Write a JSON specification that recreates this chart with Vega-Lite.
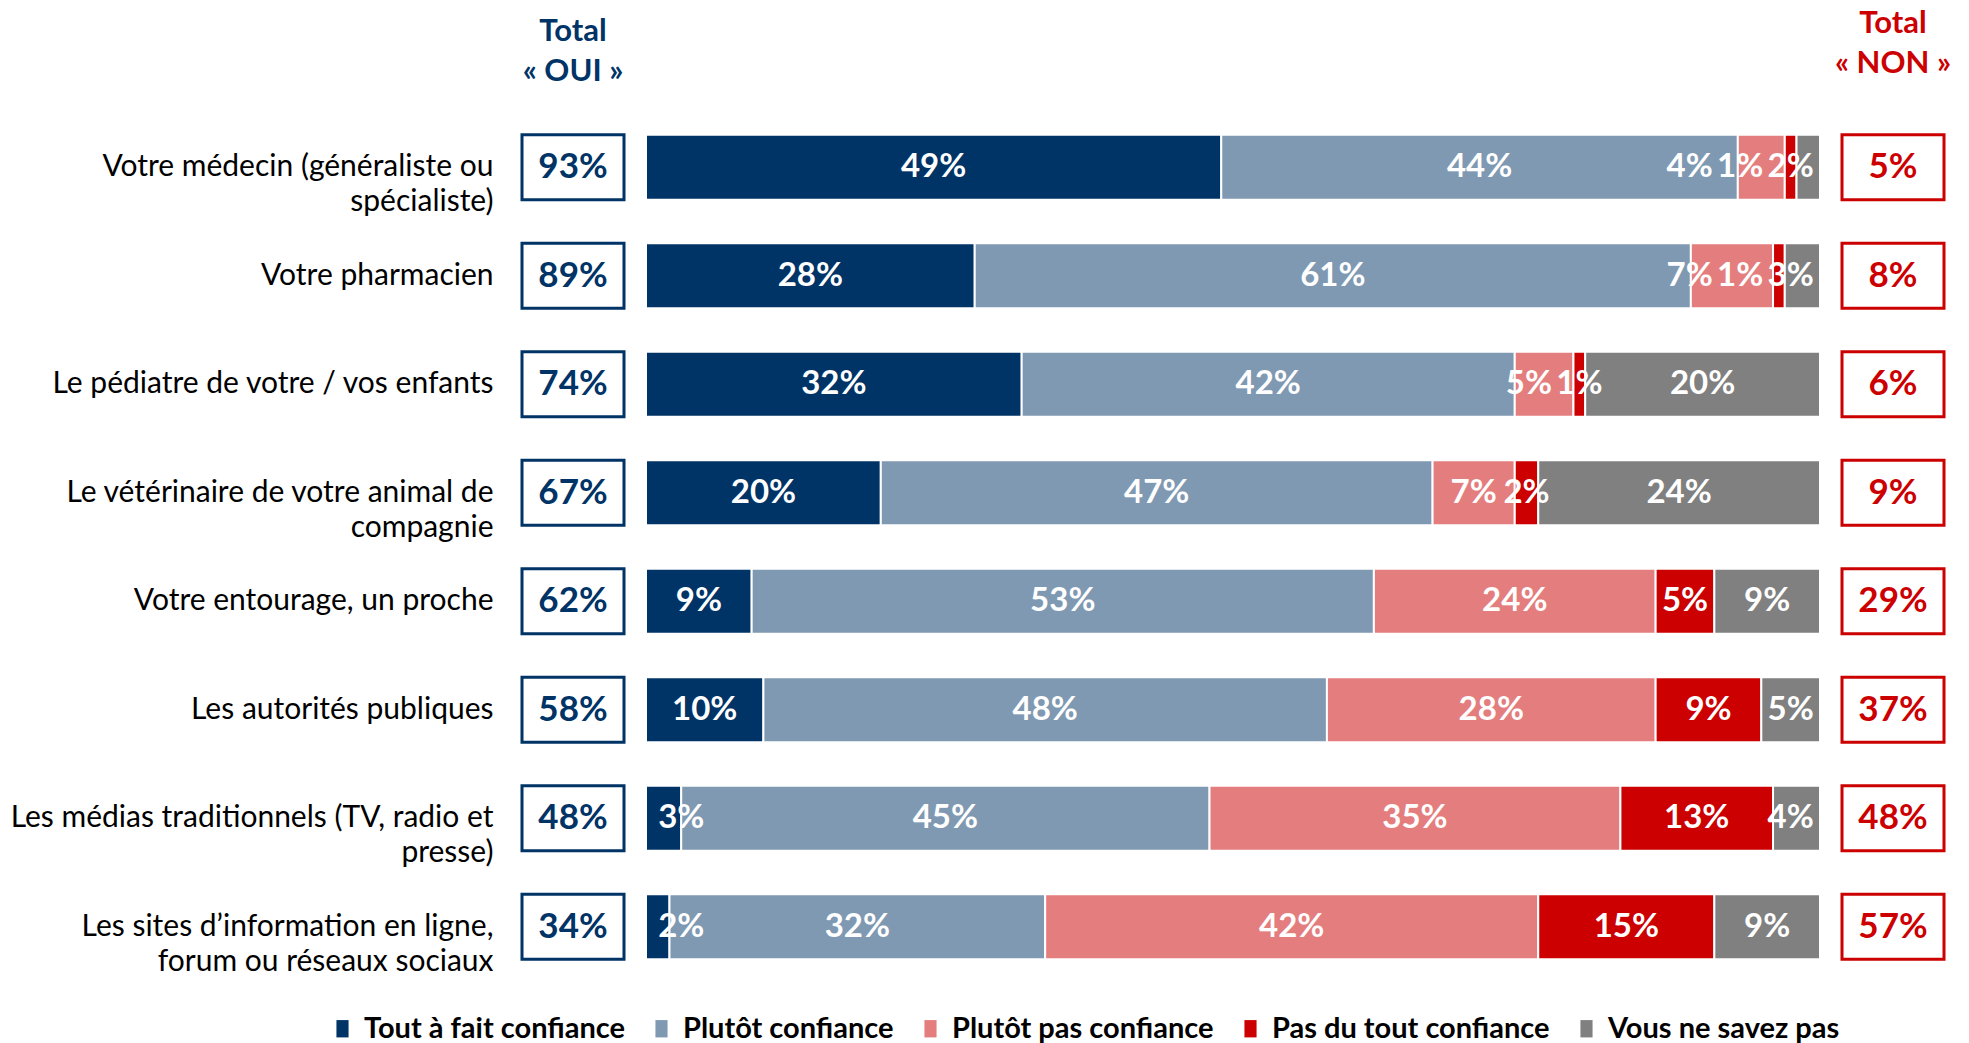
{
  "$schema": "https://vega.github.io/schema/vega-lite/v6.json",
  "background": "white",
  "padding": {"left": 10, "right": 5, "top": 8, "bottom": 5},
  "bounds": "flush",
  "spacing": 22,
  "config": {"view": {"stroke": null}, "font": "Lato"},
  "datasets": {
    "bars": [
      {"item": "Votre médecin (généraliste ou|spécialiste)", "cat": "Tout à fait confiance", "order": 1, "pct": 0.49},
      {"item": "Votre médecin (généraliste ou|spécialiste)", "cat": "Plutôt confiance", "order": 2, "pct": 0.44},
      {"item": "Votre médecin (généraliste ou|spécialiste)", "cat": "Plutôt pas confiance", "order": 3, "pct": 0.04},
      {"item": "Votre médecin (généraliste ou|spécialiste)", "cat": "Pas du tout confiance", "order": 4, "pct": 0.01},
      {"item": "Votre médecin (généraliste ou|spécialiste)", "cat": "Vous ne savez pas", "order": 5, "pct": 0.02},
      {"item": "Votre pharmacien", "cat": "Tout à fait confiance", "order": 1, "pct": 0.28},
      {"item": "Votre pharmacien", "cat": "Plutôt confiance", "order": 2, "pct": 0.61},
      {"item": "Votre pharmacien", "cat": "Plutôt pas confiance", "order": 3, "pct": 0.07},
      {"item": "Votre pharmacien", "cat": "Pas du tout confiance", "order": 4, "pct": 0.01},
      {"item": "Votre pharmacien", "cat": "Vous ne savez pas", "order": 5, "pct": 0.03},
      {"item": "Le pédiatre de votre / vos enfants", "cat": "Tout à fait confiance", "order": 1, "pct": 0.32},
      {"item": "Le pédiatre de votre / vos enfants", "cat": "Plutôt confiance", "order": 2, "pct": 0.42},
      {"item": "Le pédiatre de votre / vos enfants", "cat": "Plutôt pas confiance", "order": 3, "pct": 0.05},
      {"item": "Le pédiatre de votre / vos enfants", "cat": "Pas du tout confiance", "order": 4, "pct": 0.01},
      {"item": "Le pédiatre de votre / vos enfants", "cat": "Vous ne savez pas", "order": 5, "pct": 0.20},
      {"item": "Le vétérinaire de votre animal de|compagnie", "cat": "Tout à fait confiance", "order": 1, "pct": 0.20},
      {"item": "Le vétérinaire de votre animal de|compagnie", "cat": "Plutôt confiance", "order": 2, "pct": 0.47},
      {"item": "Le vétérinaire de votre animal de|compagnie", "cat": "Plutôt pas confiance", "order": 3, "pct": 0.07},
      {"item": "Le vétérinaire de votre animal de|compagnie", "cat": "Pas du tout confiance", "order": 4, "pct": 0.02},
      {"item": "Le vétérinaire de votre animal de|compagnie", "cat": "Vous ne savez pas", "order": 5, "pct": 0.24},
      {"item": "Votre entourage, un proche", "cat": "Tout à fait confiance", "order": 1, "pct": 0.09},
      {"item": "Votre entourage, un proche", "cat": "Plutôt confiance", "order": 2, "pct": 0.53},
      {"item": "Votre entourage, un proche", "cat": "Plutôt pas confiance", "order": 3, "pct": 0.24},
      {"item": "Votre entourage, un proche", "cat": "Pas du tout confiance", "order": 4, "pct": 0.05},
      {"item": "Votre entourage, un proche", "cat": "Vous ne savez pas", "order": 5, "pct": 0.09},
      {"item": "Les autorités publiques", "cat": "Tout à fait confiance", "order": 1, "pct": 0.10},
      {"item": "Les autorités publiques", "cat": "Plutôt confiance", "order": 2, "pct": 0.48},
      {"item": "Les autorités publiques", "cat": "Plutôt pas confiance", "order": 3, "pct": 0.28},
      {"item": "Les autorités publiques", "cat": "Pas du tout confiance", "order": 4, "pct": 0.09},
      {"item": "Les autorités publiques", "cat": "Vous ne savez pas", "order": 5, "pct": 0.05},
      {"item": "Les médias traditionnels (TV, radio et|presse)", "cat": "Tout à fait confiance", "order": 1, "pct": 0.03},
      {"item": "Les médias traditionnels (TV, radio et|presse)", "cat": "Plutôt confiance", "order": 2, "pct": 0.45},
      {"item": "Les médias traditionnels (TV, radio et|presse)", "cat": "Plutôt pas confiance", "order": 3, "pct": 0.35},
      {"item": "Les médias traditionnels (TV, radio et|presse)", "cat": "Pas du tout confiance", "order": 4, "pct": 0.13},
      {"item": "Les médias traditionnels (TV, radio et|presse)", "cat": "Vous ne savez pas", "order": 5, "pct": 0.04},
      {"item": "Les sites d’information en ligne,|forum ou réseaux sociaux", "cat": "Tout à fait confiance", "order": 1, "pct": 0.02},
      {"item": "Les sites d’information en ligne,|forum ou réseaux sociaux", "cat": "Plutôt confiance", "order": 2, "pct": 0.32},
      {"item": "Les sites d’information en ligne,|forum ou réseaux sociaux", "cat": "Plutôt pas confiance", "order": 3, "pct": 0.42},
      {"item": "Les sites d’information en ligne,|forum ou réseaux sociaux", "cat": "Pas du tout confiance", "order": 4, "pct": 0.15},
      {"item": "Les sites d’information en ligne,|forum ou réseaux sociaux", "cat": "Vous ne savez pas", "order": 5, "pct": 0.09}
    ],
    "totals": [
      {"item": "Votre médecin (généraliste ou|spécialiste)", "oui": 0.93, "non": 0.05},
      {"item": "Votre pharmacien", "oui": 0.89, "non": 0.08},
      {"item": "Le pédiatre de votre / vos enfants", "oui": 0.74, "non": 0.06},
      {"item": "Le vétérinaire de votre animal de|compagnie", "oui": 0.67, "non": 0.09},
      {"item": "Votre entourage, un proche", "oui": 0.62, "non": 0.29},
      {"item": "Les autorités publiques", "oui": 0.58, "non": 0.37},
      {"item": "Les médias traditionnels (TV, radio et|presse)", "oui": 0.48, "non": 0.48},
      {"item": "Les sites d’information en ligne,|forum ou réseaux sociaux", "oui": 0.34, "non": 0.57}
    ]
  },
  "hconcat": [
    {
      "width": 102,
      "height": 868,
      "data": {"name": "totals"},
      "title": {"text": ["Total", "« OUI »"], "fontSize": 31, "fontWeight": "bold", "color": "#003366", "anchor": "middle", "frame": "group", "offset": 25, "lineHeight": 40, "font": "Lato"},
      "encoding": {
        "y": {
          "field": "item", "type": "nominal",
          "sort": ["Votre médecin (généraliste ou|spécialiste)", "Votre pharmacien", "Le pédiatre de votre / vos enfants", "Le vétérinaire de votre animal de|compagnie", "Votre entourage, un proche", "Les autorités publiques", "Les médias traditionnels (TV, radio et|presse)", "Les sites d’information en ligne,|forum ou réseaux sociaux"],
          "scale": {"paddingInner": 0.4, "paddingOuter": 0.2},
          "axis": {"title": null, "domain": false, "ticks": false, "labelExpr": "split(datum.label, '|')", "labelFontSize": 30, "labelColor": "#000000", "labelPadding": 29, "labelLineHeight": 35, "labelLimit": 700, "labelFont": "Lato"}
        }
      },
      "layer": [
        {"mark": {"type": "rect", "fill": "white", "stroke": "#003366", "strokeWidth": 3}},
        {"mark": {"type": "text", "fontSize": 35, "fontWeight": "bold", "color": "#003366", "baseline": "middle", "align": "center"},
         "encoding": {"text": {"field": "oui", "type": "quantitative", "format": ".0%"}}}
      ]
    },
    {
      "width": 1174,
      "height": 868,
      "data": {"name": "bars"},
      "transform": [
        {"stack": "pct", "groupby": ["item"], "sort": [{"field": "order", "order": "ascending"}], "as": ["p0", "p1"]},
        {"calculate": "min((datum.p0 + datum.p1) / 2, 0.975) - datum.order * 0.043", "as": "a"},
        {"window": [{"op": "min", "field": "a", "as": "m"}], "groupby": ["item"], "sort": [{"field": "order", "order": "ascending"}], "frame": [0, null]},
        {"calculate": "max(0.03, datum.m + datum.order * 0.043)", "as": "lx"}
      ],
      "encoding": {
        "y": {
          "field": "item", "type": "nominal",
          "sort": ["Votre médecin (généraliste ou|spécialiste)", "Votre pharmacien", "Le pédiatre de votre / vos enfants", "Le vétérinaire de votre animal de|compagnie", "Votre entourage, un proche", "Les autorités publiques", "Les médias traditionnels (TV, radio et|presse)", "Les sites d’information en ligne,|forum ou réseaux sociaux"],
          "scale": {"paddingInner": 0.4, "paddingOuter": 0.2},
          "axis": null
        }
      },
      "layer": [
        {
          "mark": {"type": "bar", "stroke": "white", "strokeWidth": 2},
          "encoding": {
            "x": {"field": "p0", "type": "quantitative", "scale": {"domain": [0, 1], "nice": false, "zero": true}, "axis": null},
            "x2": {"field": "p1"},
            "color": {
              "field": "cat", "type": "nominal",
              "scale": {"domain": ["Tout à fait confiance", "Plutôt confiance", "Plutôt pas confiance", "Pas du tout confiance", "Vous ne savez pas"], "range": ["#003366", "#7F99B2", "#E47E7E", "#CC0000", "#808080"]},
              "legend": {
                "title": null, "orient": "none", "legendX": -194, "legendY": 901, "direction": "horizontal",
                "symbolType": "M-0.7,-1H0.7V1H-0.7Z", "symbolSize": 300, "symbolStrokeWidth": 0,
                "labelFontSize": 29, "labelFontWeight": "bold", "labelFont": "Lato",
                "columnPadding": 22, "labelOffset": 7, "labelLimit": 400,
                "encode": {"labels": {"update": {"fill": {"signal": "datum.value === 'Tout à fait confiance' ? '#003366' : datum.value === 'Plutôt confiance' ? '#5B7B9B' : datum.value === 'Plutôt pas confiance' ? '#E06060' : datum.value === 'Pas du tout confiance' ? '#CC0000' : '#808080'"}}}}
              }
            }
          }
        },
        {
          "mark": {"type": "text", "color": "white", "fontSize": 33, "fontWeight": "bold", "baseline": "middle", "align": "center"},
          "encoding": {
            "x": {"field": "lx", "type": "quantitative"},
            "text": {"field": "pct", "type": "quantitative", "format": ".0%"}
          }
        }
      ]
    },
    {
      "width": 102,
      "height": 868,
      "data": {"name": "totals"},
      "title": {"text": ["Total", "« NON »"], "fontSize": 31, "fontWeight": "bold", "color": "#CC0000", "anchor": "middle", "frame": "group", "offset": 33, "lineHeight": 40, "font": "Lato"},
      "encoding": {
        "y": {
          "field": "item", "type": "nominal",
          "sort": ["Votre médecin (généraliste ou|spécialiste)", "Votre pharmacien", "Le pédiatre de votre / vos enfants", "Le vétérinaire de votre animal de|compagnie", "Votre entourage, un proche", "Les autorités publiques", "Les médias traditionnels (TV, radio et|presse)", "Les sites d’information en ligne,|forum ou réseaux sociaux"],
          "scale": {"paddingInner": 0.4, "paddingOuter": 0.2},
          "axis": null
        }
      },
      "layer": [
        {"mark": {"type": "rect", "fill": "white", "stroke": "#CC0000", "strokeWidth": 3}},
        {"mark": {"type": "text", "fontSize": 35, "fontWeight": "bold", "color": "#CC0000", "baseline": "middle", "align": "center"},
         "encoding": {"text": {"field": "non", "type": "quantitative", "format": ".0%"}}}
      ]
    }
  ],
  "resolve": {"scale": {"y": "shared"}}
}
